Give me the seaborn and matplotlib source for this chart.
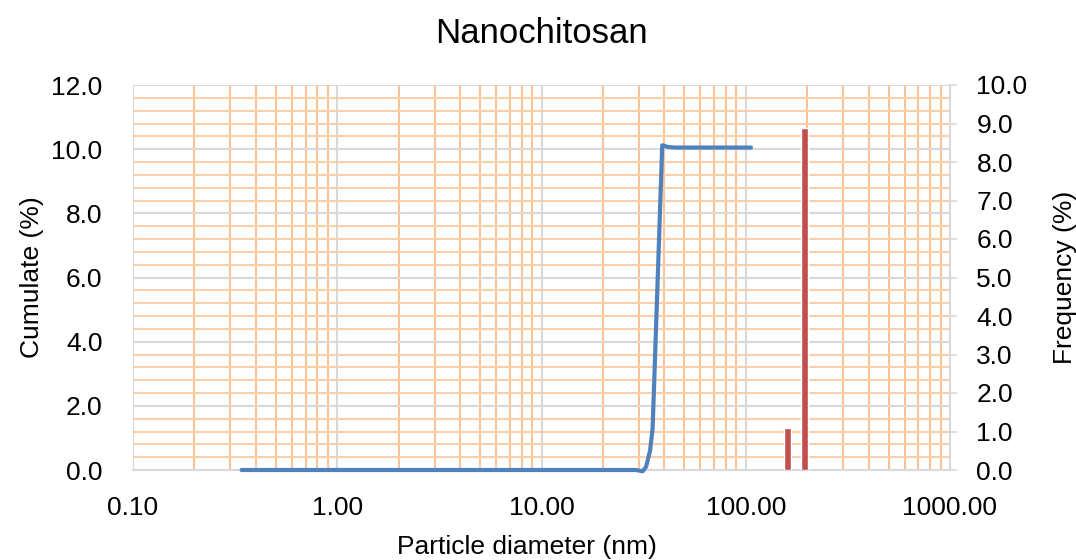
import numpy as np
import matplotlib
matplotlib.use("Agg")
import matplotlib.pyplot as plt
import seaborn as sns
from matplotlib.ticker import FixedLocator, FormatStrFormatter, NullFormatter

# ---- data ----
diameter_nm = [0.34, 1.0, 3.0, 10.0, 20.0, 29.0, 31.3, 32.5, 34.0, 35.0, 39.0, 41.5, 45.0, 60.0, 80.0, 106.0]
cumulate_pct = [0.0, 0.0, 0.0, 0.0, 0.0, 0.0, -0.04, 0.1, 0.6, 1.3, 10.12, 10.07, 10.05, 10.05, 10.05, 10.05]

bar_diameter_nm = [161.0, 195.0]
frequency_pct = [1.1, 8.88]

title = "Nanochitosan"
xlabel = "Particle diameter (nm)"
ylabel_left = "Cumulate (%)"
ylabel_right = "Frequency (%)"
x_ticks = [0.1, 1, 10, 100, 1000]
left_ticks = [0, 2, 4, 6, 8, 10, 12]
right_ticks = [0, 1, 2, 3, 4, 5, 6, 7, 8, 9, 10]

# ---- style ----
sns.set_theme(style="white")
plt.rcParams["font.family"] = ["Liberation Sans", "DejaVu Sans"]
plt.rcParams["text.color"] = "black"
plt.rcParams["axes.labelcolor"] = "black"
plt.rcParams["xtick.color"] = "black"
plt.rcParams["ytick.color"] = "black"

GRAY = "#D9D9D9"
ORANGE_V = "#FCC394"
ORANGE_H = "#FBCFA9"
BLUE = "#4F81BD"
RED = "#C0504D"

fig = plt.figure(figsize=(10.76, 5.6), dpi=100)
ax = fig.add_axes([133 / 1076, 1 - 470 / 560, (950 - 133) / 1076, (470 - 85) / 560])
ax.set_xscale("log")

sns.lineplot(x=diameter_nm, y=cumulate_pct, ax=ax, color=BLUE, linewidth=3.0, zorder=3)
for ln in ax.lines:
    ln.set_clip_on(False)
    ln.set_solid_capstyle("round")
    ln.set_solid_joinstyle("round")

# right axis with bars
ax2 = ax.twinx()
d = 7 / 204.25 / 2
lefts = [b * 10 ** (-d) for b in bar_diameter_nm]
widths = [b * 10 ** d - b * 10 ** (-d) for b in bar_diameter_nm]
ax2.bar(lefts, frequency_pct, width=widths, align="edge", color=RED, zorder=3)

ax.set_xlim(0.1, 1000)
ax.set_ylim(0, 12)
ax2.set_ylim(0, 10)

# grid / ticks on main axis
minor_x = [m * 10.0 ** e for e in range(-1, 3) for m in range(2, 10)]
ax.xaxis.set_major_locator(FixedLocator(x_ticks))
ax.xaxis.set_minor_locator(FixedLocator(minor_x))
ax.xaxis.set_major_formatter(FormatStrFormatter("%.2f"))
ax.xaxis.set_minor_formatter(NullFormatter())
ax.yaxis.set_major_locator(FixedLocator(left_ticks))
ax.yaxis.set_minor_locator(FixedLocator(list(np.arange(0.4, 12, 0.4))))
ax.yaxis.set_major_formatter(FormatStrFormatter("%.1f"))

ax.grid(which="minor", axis="y", color=ORANGE_H, linewidth=1.5, zorder=0)
ax.grid(which="major", axis="y", color=GRAY, linewidth=1.5, zorder=0)
ax.grid(which="minor", axis="x", color=ORANGE_V, linewidth=1.5, zorder=0)
ax.grid(which="major", axis="x", color=GRAY, linewidth=1.5, zorder=0)
ax.set_axisbelow(True)

for s in ["top", "left", "right"]:
    ax.spines[s].set_visible(False)
ax.spines["bottom"].set_color(GRAY)
ax.spines["bottom"].set_linewidth(1.5)

ax.tick_params(axis="both", which="both", length=0)
ax.tick_params(axis="x", labelsize=19, pad=19, labelcolor="black")
ax.tick_params(axis="y", labelsize=19, pad=22, labelcolor="black")

ax.set_xlabel(xlabel, fontsize=19, color="black")
ax.xaxis.set_label_coords((527 - 133) / 817, -65 / 385)
ax.set_ylabel(ylabel_left, fontsize=19, labelpad=5, color="black")
ax.set_title(title, fontsize=25, pad=30, color="black")

ax2.yaxis.set_major_locator(FixedLocator(right_ticks))
ax2.yaxis.set_major_formatter(FormatStrFormatter("%.1f"))
ax2.grid(False)
for s in ["top", "left", "bottom"]:
    ax2.spines[s].set_visible(False)
ax2.spines["right"].set_color(GRAY)
ax2.spines["right"].set_linewidth(1.5)
ax2.tick_params(axis="y", which="major", length=5, width=1.2, color=GRAY,
                labelsize=19, pad=14, labelcolor="black")
ax2.set_ylabel(ylabel_right, fontsize=19, labelpad=18, color="black")

fig.savefig("out.png", dpi=100)
